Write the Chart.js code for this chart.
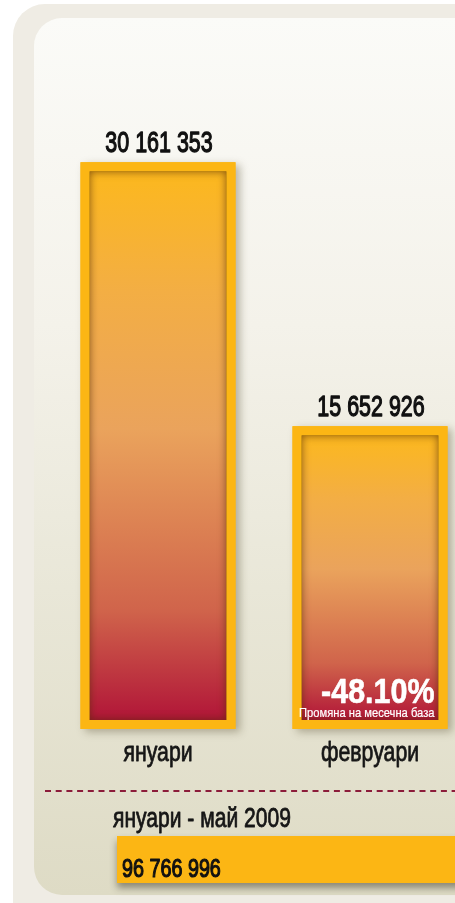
<!DOCTYPE html>
<html>
<head>
<meta charset="utf-8">
<script src="https://cdn.jsdelivr.net/npm/chart.js@4.4.0/dist/chart.umd.min.js"></script>
<style>
    html, body { margin: 0; padding: 0; width: 455px; height: 903px; overflow: hidden; background: #fff; }
    #outer { position: absolute; left: 13px; top: 4px; width: 540px; height: 930px; border-radius: 32px; background: #efece4; }
    #inner { position: absolute; left: 34px; top: 18px; width: 520px; height: 877px; border-radius: 28px;
             background: linear-gradient(#fbfbf8 0%, #f4f2ea 35%, #e9e7d8 65%, #dedbc5 100%); }
    #months { position: absolute; left: 0; top: 0; width: 500px; height: 781px; }
    #total { position: absolute; left: 0; top: 780px; width: 540px; height: 123px; }
</style>
</head>
<body>
<div id="outer"></div>
<div id="inner"></div>
<div id="months"><canvas id="monthChart"></canvas></div>
<div id="total"><canvas id="totalChart"></canvas></div>

<script>
    // данни
    const months = ['януари', 'февруари'];
    const revenue = [30161353, 15652926];
    const changeLabels = ['', '-48.10%'];
    const changeCaption = 'Промяна на месечна база';
    const periodLabel = 'януари - май 2009';
    const periodTotal = [96766996];

    const FONT = '"Liberation Sans", Arial, sans-serif';
    const YELLOW = '#fcb614';

    function fmt(v) {
        return String(v).replace(/\B(?=(\d{3})+(?!\d))/g, ' ');
    }

    // текст, свит по хоризонтала (condensed вид); weight = дебелина на контура
    function drawText(ctx, text, x, y, font, color, align, sx, weight) {
        ctx.save();
        ctx.translate(x, y);
        ctx.scale(sx || 1, 1);
        ctx.font = font;
        ctx.fillStyle = color;
        ctx.textAlign = align || 'left';
        ctx.textBaseline = 'alphabetic';
        ctx.fillText(text, 0, 0);
        if (weight) {
            ctx.strokeStyle = color;
            ctx.lineWidth = weight;
            ctx.lineJoin = 'round';
            ctx.strokeText(text, 0, 0);
        }
        ctx.restore();
    }

    function barBox(bar) {
        const p = bar.getProps(['x', 'y', 'base', 'width'], true);
        return { l: p.x - p.width / 2, t: p.y, w: p.width, h: p.base - p.y, x: p.x, base: p.base };
    }

    const framePlugin = {
        id: 'frames',
        beforeDatasetsDraw(chart) {
            const ctx = chart.ctx;
            chart.getDatasetMeta(0).data.forEach((bar) => {
                const b = barBox(bar);
                ctx.save();
                ctx.shadowColor = 'rgba(70,60,30,0.35)';
                ctx.shadowBlur = 8;
                ctx.shadowOffsetX = 4;
                ctx.shadowOffsetY = 3;
                ctx.fillStyle = YELLOW;
                ctx.fillRect(b.l - 9, b.t - 9, b.w + 18, b.h + 18);
                ctx.restore();
            });
        },
        afterDatasetsDraw(chart) {
            const ctx = chart.ctx;
            const xs = chart.scales.x;
            chart.getDatasetMeta(0).data.forEach((bar, i) => {
                const b = barBox(bar);
                // вътрешна сянка
                ctx.save();
                ctx.beginPath();
                ctx.rect(b.l, b.t, b.w, b.h);
                ctx.clip();
                ctx.shadowColor = 'rgba(90,45,10,0.75)';
                ctx.shadowBlur = 8;
                ctx.strokeStyle = '#000';
                ctx.lineWidth = 12;
                ctx.strokeRect(b.l - 6, b.t - 6, b.w + 12, b.h + 12);
                ctx.restore();
                // рамка
                ctx.save();
                ctx.strokeStyle = YELLOW;
                ctx.lineWidth = 9;
                ctx.strokeRect(b.l - 4.5, b.t - 4.5, b.w + 9, b.h + 9);
                ctx.restore();

                drawText(ctx, fmt(revenue[i]), b.x + 1, b.t - 19, '29px ' + FONT, '#111', 'center', 0.74, 1.3);

                // месеци под стълбовете
                drawText(ctx, months[i], xs.getPixelForValue(i), b.base + 41, '28px ' + FONT, '#161616', 'center', 0.76, 0.8);

                if (changeLabels[i]) {
                    const r = b.l + b.w - 4;
                    drawText(ctx, changeLabels[i], r, b.base - 17, 'bold 35px ' + FONT, '#fff', 'right', 0.87, 0.6);
                    drawText(ctx, changeCaption, r, b.base - 3, '13px ' + FONT, '#fff', 'right', 0.86, 0.2);
                }
            });
        }
    };

    new Chart(document.getElementById('monthChart'), {
        type: 'bar',
        data: {
            labels: months,
            datasets: [{
                data: revenue,
                borderWidth: 0,
                backgroundColor: function (c) {
                    const chart = c.chart;
                    if (!chart.chartArea || c.raw == null) return '#e9a05a';
                    const y = chart.scales.y;
                    const top = y.getPixelForValue(c.raw);
                    const bottom = y.getPixelForValue(0);
                    const g = chart.ctx.createLinearGradient(0, top, 0, bottom);
                    g.addColorStop(0, '#fcb81e');
                    g.addColorStop(0.22, '#f3ae44');
                    g.addColorStop(0.47, '#eaa35c');
                    g.addColorStop(0.8, '#d0644b');
                    g.addColorStop(1, '#b11538');
                    return g;
                },
                barPercentage: 137 / 212,
                categoryPercentage: 1
            }]
        },
        options: {
            responsive: true,
            maintainAspectRatio: false,
            animation: false,
            events: [],
            layout: { padding: { left: 52, right: 24, top: 65, bottom: 61 } },
            plugins: { legend: { display: false }, tooltip: { enabled: false } },
            scales: {
                x: { display: false },
                y: { display: false, min: 0, max: 36000000 }
            }
        },
        plugins: [framePlugin]
    });

    const totalPlugin = {
        id: 'totalDecor',
        beforeDatasetsDraw(chart) {
            const ctx = chart.ctx;
            // пунктирна линия
            ctx.save();
            ctx.strokeStyle = '#8c1c3a';
            ctx.lineWidth = 2;
            ctx.setLineDash([6, 4.7]);
            ctx.beginPath();
            ctx.moveTo(45, 11);
            ctx.lineTo(chart.width, 11);
            ctx.stroke();
            ctx.restore();

            drawText(ctx, periodLabel, 113, 47, '27px ' + FONT, '#161616', 'left', 0.78, 0.8);

            const bar = chart.getDatasetMeta(0).data[0];
            const p = bar.getProps(['x', 'y', 'base', 'height'], true);
            ctx.save();
            ctx.shadowColor = 'rgba(40,35,20,0.45)';
            ctx.shadowBlur = 7;
            ctx.shadowOffsetY = 5;
            ctx.fillStyle = YELLOW;
            ctx.fillRect(p.base, p.y - p.height / 2, p.x - p.base, p.height);
            ctx.restore();
        },
        afterDatasetsDraw(chart) {
            const bar = chart.getDatasetMeta(0).data[0];
            const p = bar.getProps(['x', 'y', 'base', 'height'], true);
            drawText(chart.ctx, fmt(periodTotal[0]), p.base + 5, p.y + p.height / 2 - 6, '25px ' + FONT, '#111', 'left', 0.79, 1.2);
        }
    };

    new Chart(document.getElementById('totalChart'), {
        type: 'bar',
        data: {
            labels: [periodLabel],
            datasets: [{
                data: periodTotal,
                backgroundColor: YELLOW,
                borderWidth: 0,
                barPercentage: 1,
                categoryPercentage: 1
            }]
        },
        options: {
            indexAxis: 'y',
            responsive: true,
            maintainAspectRatio: false,
            animation: false,
            events: [],
            layout: { padding: { left: 117, right: 0, top: 56, bottom: 20 } },
            plugins: { legend: { display: false }, tooltip: { enabled: false } },
            scales: {
                x: { display: false, min: 0, max: periodTotal[0] },
                y: { display: false }
            }
        },
        plugins: [totalPlugin]
    });
</script>
</body>
</html>
